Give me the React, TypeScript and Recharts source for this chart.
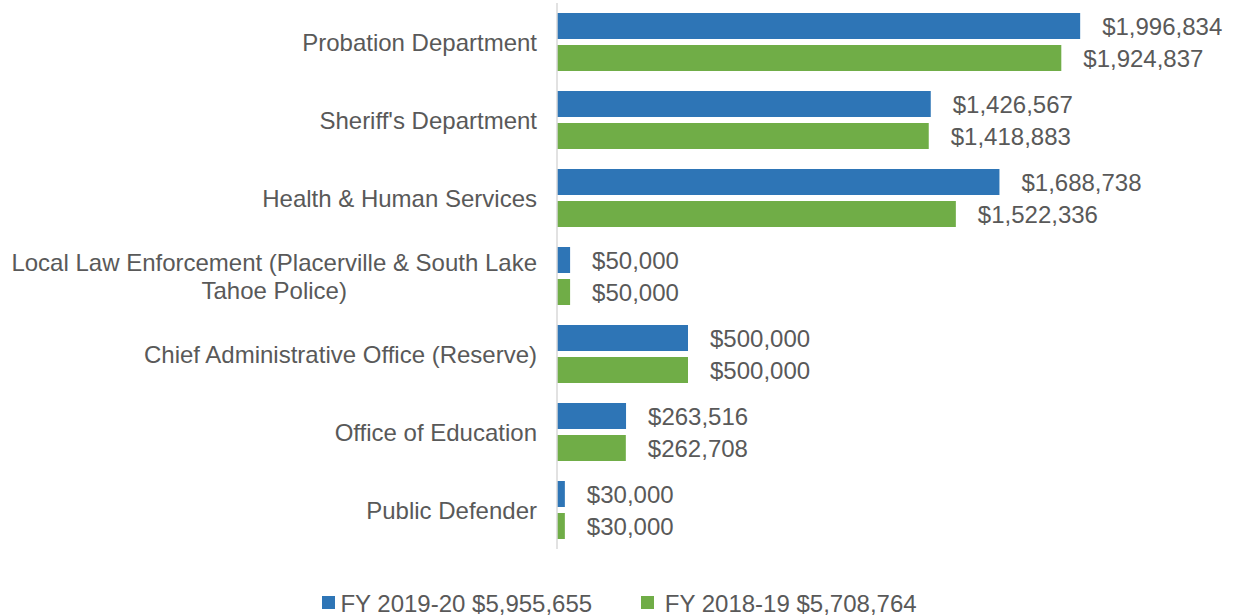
import React from "react";
import { BarChart, Bar, XAxis, YAxis, Legend, LabelList } from "recharts";

const categories = [
  "Probation Department",
  "Sheriff's Department",
  "Health & Human Services",
  "Local Law Enforcement (Placerville & South Lake Tahoe Police)",
  "Chief Administrative Office (Reserve)",
  "Office of Education",
  "Public Defender",
];
const fy2019_20 = [1996834, 1426567, 1688738, 50000, 500000, 263516, 30000];
const fy2018_19 = [1924837, 1418883, 1522336, 50000, 500000, 262708, 30000];
const seriesNames = ["FY 2019-20 $5,955,655", "FY 2018-19 $5,708,764"];
const seriesColors = ["#2E75B6", "#70AD47"];

const data = categories.map((name, i) => ({
  name,
  a: fy2019_20[i],
  b: fy2018_19[i],
}));

const FONT = '"Liberation Sans", Arial, sans-serif';
const TEXT = "#595959";

let ctx: CanvasRenderingContext2D | null = null;
const measure = (t: string) => {
  if (!ctx) {
    ctx = document.createElement("canvas").getContext("2d");
  }
  if (!ctx) return t.length * 12;
  ctx.font = `24px ${FONT}`;
  return ctx.measureText(t).width;
};

const wrap = (t: string, maxW: number) => {
  const words = t.split(" ");
  const lines: string[] = [];
  let cur = "";
  for (const w of words) {
    const test = cur ? cur + " " + w : w;
    if (cur && measure(test) > maxW) {
      lines.push(cur);
      cur = w;
    } else {
      cur = test;
    }
  }
  if (cur) lines.push(cur);
  return lines;
};

const CategoryTick = (props: any) => {
  const { x, y, payload } = props;
  const lines = wrap(String(payload.value), 530);
  const widths = lines.map(measure);
  const maxW = Math.max(...widths);
  const n = lines.length;
  if (n === 1) {
    return (
      <text x={x} y={y} dy="0.355em" textAnchor="end" fill={TEXT} fontSize={24} fontFamily={FONT}>
        {lines[0]}
      </text>
    );
  }
  const cx = x - maxW / 2;
  return (
    <g>
      {lines.map((l, i) => (
        <text
          key={i}
          x={cx}
          y={y + (i - (n - 1) / 2) * 28}
          dy="0.355em"
          textAnchor="middle"
          fill={TEXT}
          fontSize={24}
          fontFamily={FONT}
        >
          {l}
        </text>
      ))}
    </g>
  );
};

const fmt = (v: any) => "$" + Number(v).toLocaleString("en-US");

const LegendContent = () => (
  <div
    style={{
      display: "flex",
      justifyContent: "center",
      alignItems: "center",
      height: 24,
      fontFamily: FONT,
      fontSize: 24,
      color: TEXT,
      paddingLeft: 5,
      whiteSpace: "pre",
    }}
  >
    {seriesNames.map((s, i) => (
      <div key={s} style={{ display: "flex", alignItems: "center", marginLeft: i === 0 ? 0 : 49 }}>
        <span style={{ width: 13, height: 13, background: seriesColors[i], display: "inline-block" }} />
        <span style={{ marginLeft: i === 0 ? 5 : 4, lineHeight: "24px", position: "relative", top: 2 }}>
          {i === 0 ? s : " " + s}
        </span>
      </div>
    ))}
  </div>
);

export default function App() {
  return (
    <div style={{ position: "absolute", left: 0, top: 0 }}>
      <BarChart
        width={1234}
        height={615}
        data={data}
        layout="vertical"
        margin={{ top: 3, right: 22, bottom: 42, left: 0 }}
        barSize={26}
        barGap={6}
      >
        <XAxis type="number" hide domain={[0, 2500000]} />
        <YAxis
          type="category"
          dataKey="name"
          width={557}
          tickLine={false}
          tickSize={0}
          tickMargin={20}
          axisLine={{ stroke: "#d9d9d9", strokeWidth: 1.5 }}
          tick={<CategoryTick />}
          interval={0}
        />
        <Legend
          content={<LegendContent />}
          wrapperStyle={{ top: 590, left: 0, width: 1234, height: 24 }}
        />
        <Bar dataKey="a" fill={seriesColors[0]} isAnimationActive={false}>
          <LabelList dataKey="a" position="right" offset={22} formatter={fmt} fill={TEXT} fontSize={24} fontFamily={FONT} />
        </Bar>
        <Bar dataKey="b" fill={seriesColors[1]} isAnimationActive={false}>
          <LabelList dataKey="b" position="right" offset={22} formatter={fmt} fill={TEXT} fontSize={24} fontFamily={FONT} />
        </Bar>
      </BarChart>
    </div>
  );
}
